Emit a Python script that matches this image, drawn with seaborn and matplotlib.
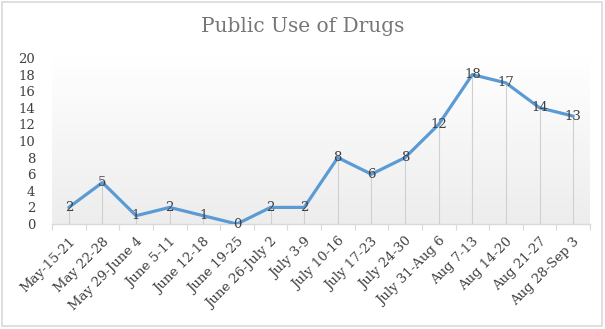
import numpy as np
import pandas as pd
import matplotlib
matplotlib.use("Agg")
import matplotlib.pyplot as plt
import seaborn as sns
from matplotlib.patches import Rectangle

weeks = ["May-15-21", "May 22-28", "May 29-June 4", "June 5-11", "June 12-18",
         "June 19-25", "June 26-July 2", "July 3-9", "July 10-16", "July 17-23",
         "July 24-30", "July 31-Aug 6", "Aug 7-13", "Aug 14-20", "Aug 21-27",
         "Aug 28-Sep 3"]
counts = [2, 5, 1, 2, 1, 0, 2, 2, 8, 6, 8, 12, 18, 17, 14, 13]
yticks = [0, 2, 4, 6, 8, 10, 12, 14, 16, 18, 20]
title = "Public Use of Drugs"

sns.set_style("white")
plt.rcParams["font.family"] = ["DejaVu Serif", "DejaVu Sans"]

df = pd.DataFrame({"idx": np.arange(len(weeks)), "week": weeks, "count": counts})

fig = plt.figure(figsize=(6.05, 3.29), dpi=100)
ax = fig.add_axes([52 / 605, 1 - 224 / 329, (590 - 52) / 605, (224 - 58) / 329])

# outer border
fig.patches.append(Rectangle((2 / 605, 3 / 329), 600 / 605, 324 / 329,
                             transform=fig.transFigure, fill=False,
                             edgecolor="#D9D9D9", lw=1.2))

# gradient background
grad = np.linspace(0, 1, 256).reshape(-1, 1)
cmap = matplotlib.colors.LinearSegmentedColormap.from_list("g", ["#FFFFFF", "#EDEDED"])
ax.imshow(grad, cmap=cmap, aspect="auto", extent=[0, 1, 0, 1],
          transform=ax.transAxes, zorder=0)

ax.vlines(df["idx"], 0, df["count"], color="#D0D0D0", lw=0.8, zorder=1)
sns.lineplot(data=df, x="idx", y="count", ax=ax, color="#5B9BD5", lw=2.3,
             zorder=3, legend=False)

for i, v in zip(df["idx"], df["count"]):
    ax.text(i, v, str(v), ha="center", va="center", fontsize=9.5,
            color="#404040", zorder=4)

ax.set_xlim(-0.5, len(weeks) - 0.5)
ax.set_ylim(0, 20)
ax.set_yticks(yticks)
ax.set_yticklabels([str(t) for t in yticks], fontsize=9.5, color="#404040")
ax.set_xticks(df["idx"])
ax.set_xticklabels(weeks, rotation=45, ha="right", rotation_mode="anchor",
                   fontsize=9.5, color="#404040")
ax.set_xticks(np.arange(-0.5, len(weeks), 1), minor=True)
ax.tick_params(axis="x", which="major", length=0, pad=8)
ax.tick_params(axis="x", which="minor", length=4, color="#D9D9D9", width=0.8,
               direction="out", bottom=True)
ax.tick_params(axis="y", length=0, pad=12)
ax.set_xlabel("")
ax.set_ylabel("")
for s in ["top", "right", "left"]:
    ax.spines[s].set_visible(False)
ax.spines["bottom"].set_color("#D9D9D9")
ax.spines["bottom"].set_linewidth(1)

fig.text(0.5, 1 - 27 / 329, title, ha="center", va="center", fontsize=14.5,
         color="#767676")

fig.savefig("out.png", dpi=100)
